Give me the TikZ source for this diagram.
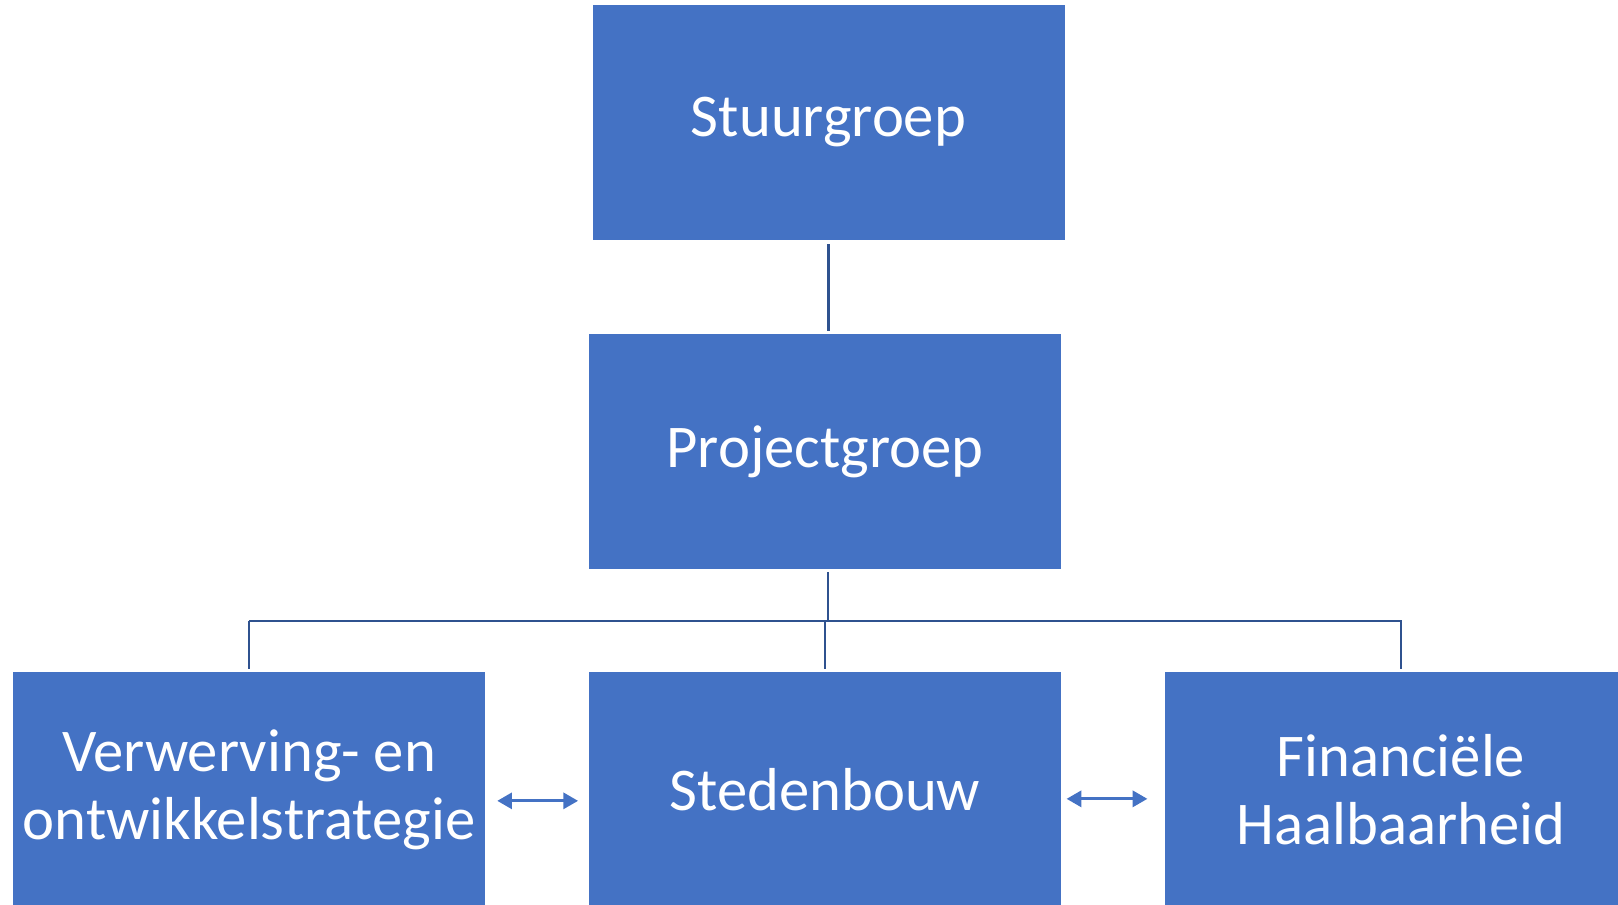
\documentclass[tikz,border=0pt]{standalone}
\usepackage{fontspec}
\setmainfont{Carlito}
\usetikzlibrary{arrows.meta}

\definecolor{boxblue}{HTML}{4472C4}
\definecolor{lineblue}{HTML}{2F528F}

\tikzset{
  groep/.style={fill=boxblue, draw=none, text=white, align=center,
    minimum width=354pt, minimum height=176.25pt, inner sep=0pt,
    font=\fontsize{45.5}{51}\selectfont},
  lijn/.style={draw=lineblue, line width=2pt},
  pijl/.style={draw=boxblue, line width=2.2pt,
    {Triangle[length=11pt,width=12pt]}-{Triangle[length=11pt,width=12pt]}}
}

\begin{document}
\begin{tikzpicture}[x=0.75pt,y=-0.75pt]
\clip (0,0) rectangle (1618,904);

% top
\node[groep] (stuur) at (828.5,122.5) {\raisebox{-3pt}{Stuurgroep}};

% middle
\node[groep] (proj) at (825,451.5) {\raisebox{-2pt}{Projectgroep}};

% bottom row
\node[groep] (verw) at (249,789.5) {Verwerving- en\\ontwikkelstrategie};
\node[groep] (sted) at (825,789.5) {\raisebox{-1pt}{Stedenbouw}};
\node[groep] (fin)  at (1401,789.5) {Financiële\\Haalbaarheid};

% tree lines
\coordinate (bus) at (828,621);
\draw[lijn, shorten <=3pt, shorten >=2pt] (stuur.south) -- (stuur.south |- proj.north);
\draw[lijn, shorten <=2pt] ([xshift=2.25pt]proj.south) -- ([xshift=2.25pt]proj.south |- bus);
\draw[lijn, shorten >=2pt] (verw.north |- bus) -- (verw.north);
\draw[lijn, shorten >=2pt] (sted.north |- bus) -- (sted.north);
\draw[lijn, shorten >=2pt] (verw.north |- bus) -- (fin.north |- bus) -- (fin.north);

% links between teams
\draw[pijl, shorten <=9pt, shorten >=8pt] ([yshift=-8.5pt]verw.east) -- ([yshift=-8.5pt]sted.west);
\draw[pijl, shorten <=4pt, shorten >=13pt] ([yshift=-7pt]sted.east) -- ([yshift=-7pt]fin.west);

\end{tikzpicture}
\end{document}
